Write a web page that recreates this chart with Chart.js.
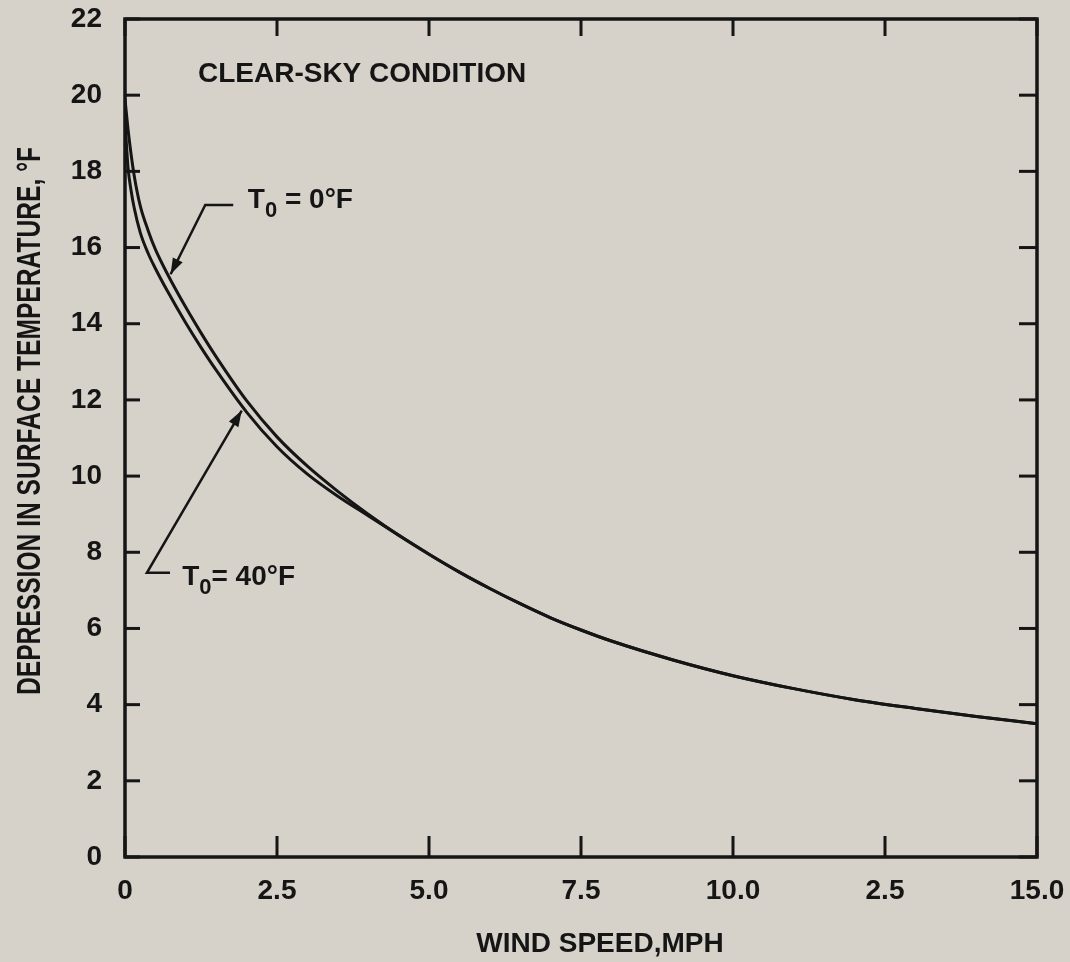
<!DOCTYPE html>
<html>
<head>
<meta charset="utf-8">
<title>Depression in surface temperature vs wind speed</title>
<script src="https://cdn.jsdelivr.net/npm/chart.js@4.4.1/dist/chart.umd.min.js"></script>
<style>
    html, body { margin: 0; padding: 0; background: #d6d2ca; }
    #wrap { width: 1070px; height: 962px; }
</style>
</head>
<body>
<div id="wrap"><canvas id="windChart" width="1070" height="962"></canvas></div>
<script>
// Wind speed (mph) and surface temperature depression (°F), clear sky
const speed0F = [0, 0.05, 0.1, 0.15, 0.25, 0.38, 0.5, 0.7, 1.0, 1.25, 1.5, 2.0, 2.5, 3.0, 3.5, 4.0, 4.5, 5.0, 5.5, 6.0, 6.5, 7.0, 7.5, 8.0, 9.0, 10.0, 11.0, 12.0, 13.0, 14.0, 15.0];
const depression0F = [19.9, 19.1, 18.45, 17.9, 17.1, 16.45, 15.95, 15.3, 14.43, 13.76, 13.13, 11.98, 11.03, 10.26, 9.6, 9.0, 8.45, 7.95, 7.48, 7.05, 6.65, 6.28, 5.96, 5.67, 5.18, 4.76, 4.42, 4.13, 3.9, 3.69, 3.5];

const speed40F = [0, 0.05, 0.1, 0.15, 0.25, 0.38, 0.5, 0.7, 1.0, 1.25, 1.5, 2.0, 2.5, 3.0, 3.5, 4.0, 4.5, 5.0, 5.5, 6.0, 6.5, 7.0, 7.5, 8.0, 9.0, 10.0, 11.0, 12.0, 13.0, 14.0, 15.0];
const depression40F = [19.3, 18.1, 17.5, 17.05, 16.4, 15.85, 15.45, 14.85, 14.02, 13.38, 12.78, 11.68, 10.77, 10.05, 9.47, 8.96, 8.45, 7.95, 7.48, 7.05, 6.65, 6.28, 5.96, 5.67, 5.18, 4.76, 4.42, 4.13, 3.9, 3.69, 3.5];

const xTickLabels = ['0', '2.5', '5.0', '7.5', '10.0', '2.5', '15.0'];

const ink = '#151515';
const family = '"Liberation Sans", Arial, sans-serif';
const font = 'bold 28px ' + family;

const toPoints = (xs, ys) => xs.map((x, i) => ({ x: x, y: ys[i] }));

// Curve labels with their leader lines (data units)
const curveNotes = [
    { t: '0', rest: ' = 0°F', at: [2.02, 17.04], leader: [[1.78, 17.12], [1.32, 17.12], [0.75, 15.3]] },
    { t: '0', rest: '= 40°F', at: [0.94, 7.14], leader: [[0.74, 7.46], [0.36, 7.46], [1.92, 11.72]] }
];

const frame = {
    id: 'frame',
    beforeDraw(chart) {
        const ctx = chart.ctx;
        ctx.save();
        ctx.fillStyle = '#d6d2ca';
        ctx.fillRect(0, 0, chart.width, chart.height);
        ctx.restore();
    },
    afterDraw(chart) {
        const { ctx, chartArea: a, scales: { x, y } } = chart;
        const line = (x1, y1, x2, y2) => { ctx.beginPath(); ctx.moveTo(x1, y1); ctx.lineTo(x2, y2); ctx.stroke(); };
        ctx.save();
        ctx.strokeStyle = ink;
        ctx.fillStyle = ink;
        ctx.lineCap = 'butt';

        // box and inward ticks on all four sides
        ctx.lineWidth = 3.5;
        ctx.strokeRect(a.left, a.top, a.right - a.left, a.bottom - a.top);
        ctx.lineWidth = 3;
        x.ticks.forEach(t => {
            const px = x.getPixelForValue(t.value);
            line(px, a.bottom, px, a.bottom - 21);
            line(px, a.top, px, a.top + 17);
        });
        y.ticks.forEach(t => {
            const py = y.getPixelForValue(t.value);
            line(a.left, py, a.left + 15, py);
            line(a.right, py, a.right - 18, py);
        });

        // condition note
        ctx.font = font;
        ctx.textBaseline = 'alphabetic';
        ctx.textAlign = 'left';
        ctx.fillText('CLEAR-SKY CONDITION', x.getPixelForValue(1.2), y.getPixelForValue(20.35));

        // curve labels and arrows
        curveNotes.forEach(n => {
            const px = x.getPixelForValue(n.at[0]);
            const py = y.getPixelForValue(n.at[1]);
            ctx.font = font;
            ctx.fillText('T', px, py);
            let cx = px + ctx.measureText('T').width;
            ctx.font = 'bold 22px ' + family;
            ctx.fillText(n.t, cx, py + 9);
            cx += ctx.measureText(n.t).width;
            ctx.font = font;
            ctx.fillText(n.rest, cx, py);

            const pts = n.leader.map(p => [x.getPixelForValue(p[0]), y.getPixelForValue(p[1])]);
            ctx.lineWidth = 2.5;
            ctx.beginPath();
            ctx.moveTo(pts[0][0], pts[0][1]);
            pts.slice(1).forEach(p => ctx.lineTo(p[0], p[1]));
            ctx.stroke();
            const tip = pts[pts.length - 1], from = pts[pts.length - 2];
            const ang = Math.atan2(tip[1] - from[1], tip[0] - from[0]);
            ctx.beginPath();
            ctx.moveTo(tip[0], tip[1]);
            ctx.lineTo(tip[0] - 16 * Math.cos(ang) + 5.5 * Math.sin(ang), tip[1] - 16 * Math.sin(ang) - 5.5 * Math.cos(ang));
            ctx.lineTo(tip[0] - 16 * Math.cos(ang) - 5.5 * Math.sin(ang), tip[1] - 16 * Math.sin(ang) + 5.5 * Math.cos(ang));
            ctx.closePath();
            ctx.fill();
        });

        // axis titles
        ctx.font = font;
        ctx.textAlign = 'center';
        ctx.fillText('WIND SPEED,MPH', 600, 952);

        const yTitle = 'DEPRESSION IN SURFACE TEMPERATURE, °F';
        ctx.font = 'bold 33px ' + family;
        const w = ctx.measureText(yTitle).width;
        ctx.translate(40, 421);
        ctx.rotate(-Math.PI / 2);
        ctx.scale(548 / w, 1);
        ctx.fillText(yTitle, 0, 0);
        ctx.restore();
    }
};

// hidden tick marks only open the gap between the axes and their labels
const gapGrid = len => ({ display: true, drawOnChartArea: false, drawTicks: true, tickLength: len, color: 'rgba(0,0,0,0)' });

new Chart(document.getElementById('windChart').getContext('2d'), {
    type: 'line',
    data: {
        datasets: [
            {
                label: 'T0 = 0°F',
                data: toPoints(speed0F, depression0F),
                borderColor: ink,
                borderWidth: 3,
                pointRadius: 0,
                cubicInterpolationMode: 'monotone',
                fill: false
            },
            {
                label: 'T0 = 40°F',
                data: toPoints(speed40F, depression40F),
                borderColor: ink,
                borderWidth: 3,
                pointRadius: 0,
                cubicInterpolationMode: 'monotone',
                fill: false
            }
        ]
    },
    options: {
        responsive: false,
        animation: false,
        layout: { padding: { left: 0, top: 19, right: 33, bottom: 0 } },
        plugins: {
            legend: { display: false },
            tooltip: { enabled: false }
        },
        scales: {
            x: {
                type: 'linear',
                min: 0,
                max: 15,
                afterFit: s => { s.height = 105; },
                grid: gapGrid(17),
                border: { display: false },
                ticks: {
                    stepSize: 2.5,
                    padding: 0,
                    color: ink,
                    font: { family: family, size: 28, weight: 'bold' },
                    maxRotation: 0,
                    autoSkip: false,
                    callback: (v, i) => xTickLabels[i]
                }
            },
            y: {
                min: 0,
                max: 22,
                afterFit: s => { s.width = 125; },
                grid: gapGrid(23),
                border: { display: false },
                ticks: {
                    stepSize: 2,
                    padding: 0,
                    color: ink,
                    font: { family: family, size: 28, weight: 'bold' }
                }
            }
        }
    },
    plugins: [frame]
});
</script>
</body>
</html>
